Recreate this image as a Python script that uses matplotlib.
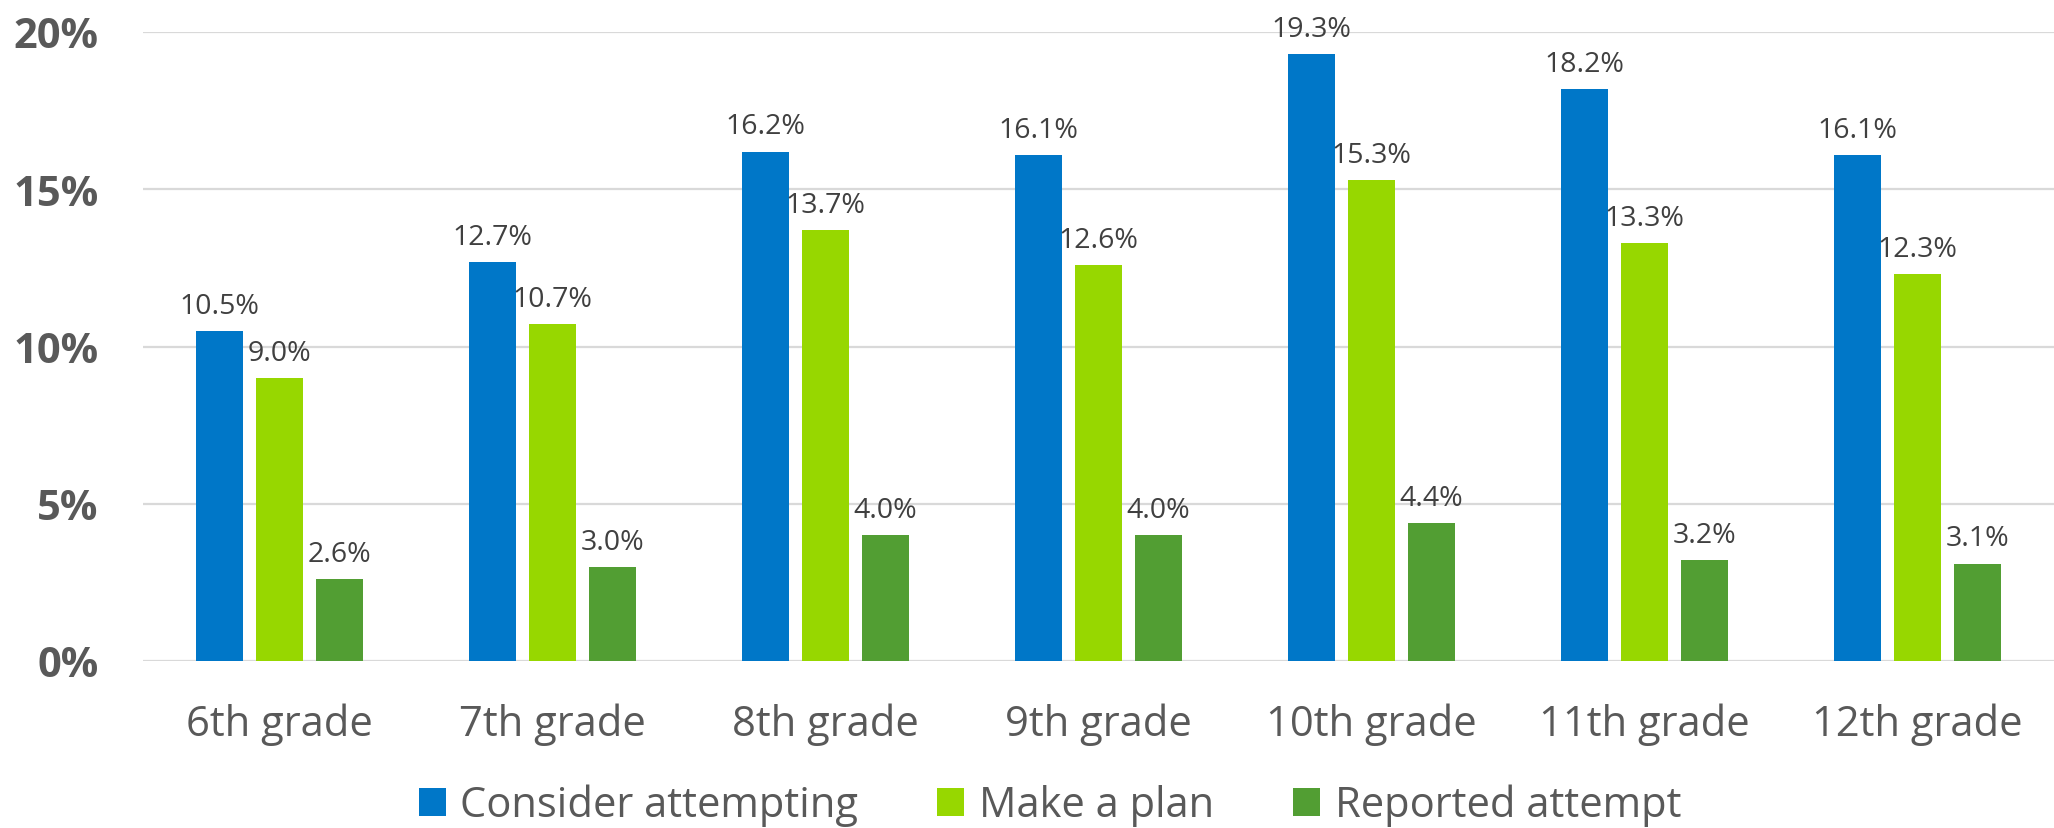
import numpy as np
import matplotlib.pyplot as plt
from matplotlib.ticker import FuncFormatter

# データ
grades = ['6th grade', '7th grade', '8th grade', '9th grade',
          '10th grade', '11th grade', '12th grade']
consider = [10.5, 12.7, 16.2, 16.1, 19.3, 18.2, 16.1]
plan = [9.0, 10.7, 13.7, 12.6, 15.3, 13.3, 12.3]
attempt = [2.6, 3.0, 4.0, 4.0, 4.4, 3.2, 3.1]
series_names = ['Consider attempting', 'Make a plan', 'Reported attempt']
colors = ['#0077C8', '#97D700', '#529E33']

plt.rcParams['font.family'] = ['Open Sans', 'DejaVu Sans']

fig = plt.figure(figsize=(20.54, 8.29), dpi=100)
ax = fig.add_axes([143 / 2054, 1 - 662 / 829, 1 - 143 / 2054, (662 - 33) / 829])

x = np.arange(len(grades))
step = 0.22
width = 0.172
for i, (vals, name, c) in enumerate(zip([consider, plan, attempt], series_names, colors)):
    b = ax.bar(x + (i - 1) * step, vals, width, color=c, label=name, zorder=3)
    for rect, v in zip(b, vals):
        ax.annotate(f'{v:.1f}%', (rect.get_x() + rect.get_width() / 2, v),
                    xytext=(0, 13), textcoords='offset points',
                    ha='center', va='baseline', fontsize=20.5,
                    color='#404040', annotation_clip=False)

ax.set_xlim(-0.5, len(grades) - 0.5)
ax.set_ylim(0, 20)
ax.set_yticks([0, 5, 10, 15, 20])
ax.yaxis.set_major_formatter(FuncFormatter(lambda v, p: f'{v:.0f}%'))
ax.set_xticks(x)
ax.set_xticklabels(grades)

ax.grid(axis='y', color='#D9D9D9', linewidth=1.6, zorder=0)
for s in ax.spines.values():
    s.set_visible(False)
ax.tick_params(axis='both', length=0)
ax.tick_params(axis='y', pad=32, labelsize=30, labelcolor='#595959')
ax.tick_params(axis='x', pad=30, labelsize=30, labelcolor='#595959')
for t in ax.get_yticklabels():
    t.set_fontweight('bold')

fig.legend(loc='center', bbox_to_anchor=(1050 / 2054, 1 - 806 / 829), ncol=3,
           frameon=False, fontsize=30, labelcolor='#595959',
           handlelength=0.65, handleheight=0.65, handletextpad=0.35,
           columnspacing=1.9)

fig.savefig('out.png', dpi=100)
